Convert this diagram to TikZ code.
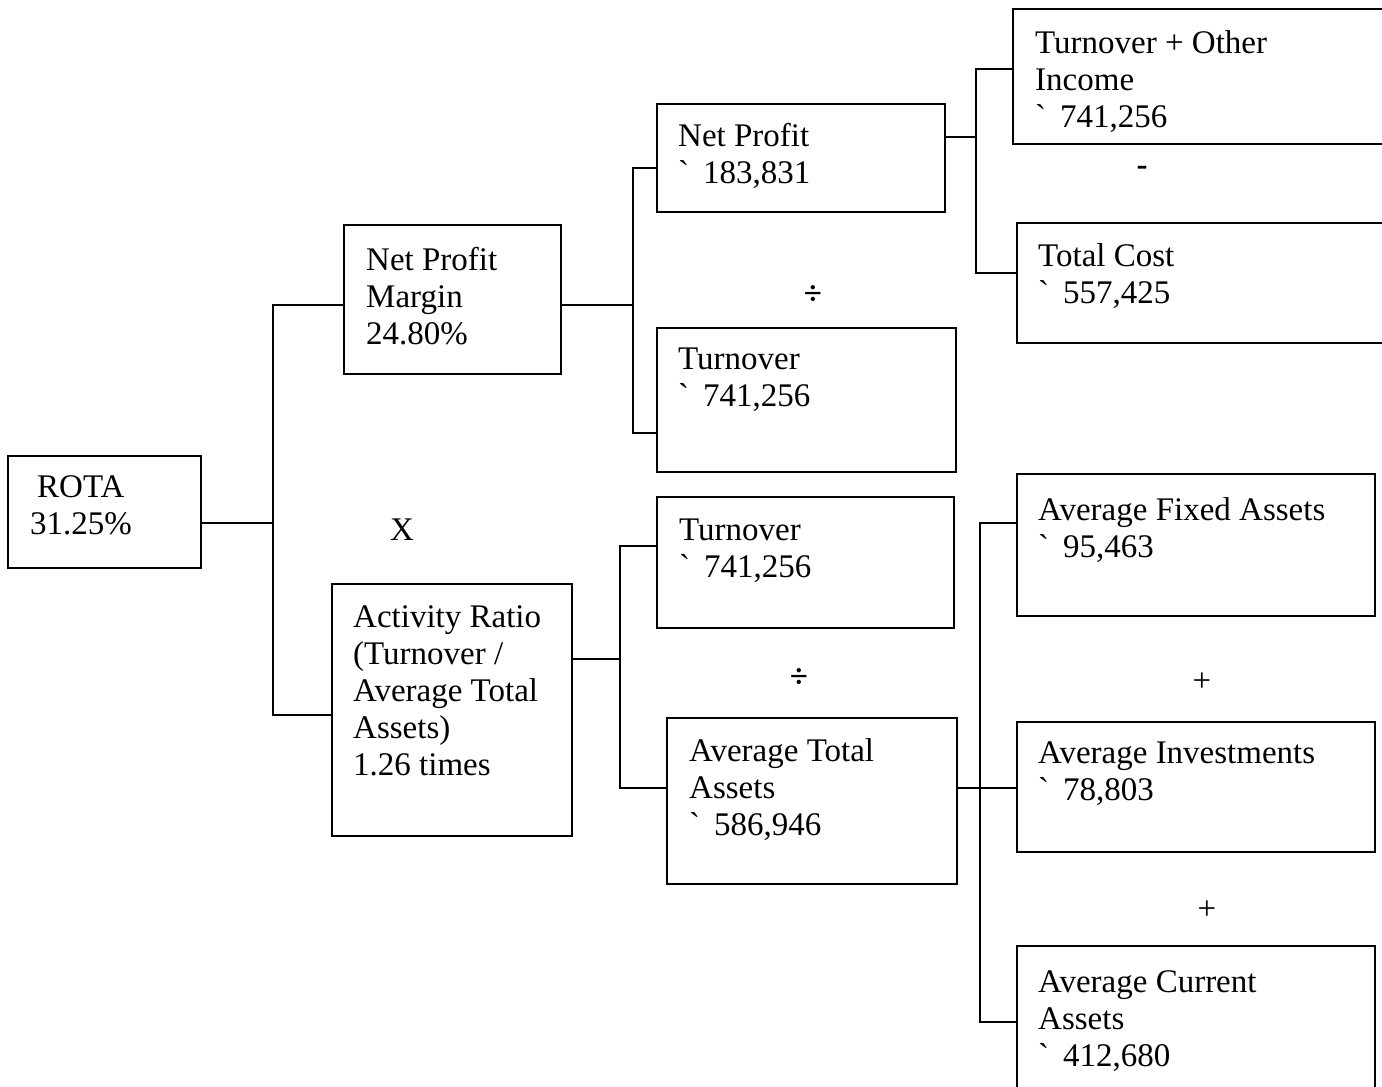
\documentclass[tikz,border=0pt]{standalone}
\usepackage{fontspec}
\setmainfont{Liberation Serif}[Ligatures=TeXOff]
\usepackage{tikz}
\usetikzlibrary{positioning}
\newcommand{\rs}{\textasciigrave\hspace{14pt}}
\tikzset{
  ln/.style={line width=1.9pt,black},
  box/.style={draw,line width=1.9pt,inner sep=0,outer sep=0,anchor=north west},
  txt/.style={inner sep=0,align=left,font=\fontsize{33}{37}\selectfont},
  op/.style={inner sep=0,font=\fontsize{33}{37}\selectfont}
}
\begin{document}
\begin{tikzpicture}[x=1pt,y=-1pt]
\useasboundingbox (0,0) rectangle (1382,1087);
% boxes
\node[box,minimum width=193,minimum height=112] (rota) at (8,456) {};
\node[box,minimum width=217,minimum height=149] (npm) at (344,225) {};
\node[box,minimum width=240,minimum height=252] (act) at (332,584) {};
\node[box,minimum width=288,minimum height=108] (np) at (657,104) {};
\node[box,minimum width=299,minimum height=144] (tov1) at (657,328) {};
\node[box,minimum width=390,minimum height=135] (toi) at (1013,9) {};
\node[box,minimum width=390,minimum height=120] (tc) at (1017,223) {};
\node[box,minimum width=297,minimum height=131] (tov2) at (657,497) {};
\node[box,minimum width=290,minimum height=166] (ata) at (667,718) {};
\node[box,minimum width=358,minimum height=142] (afa) at (1017,474) {};
\node[box,minimum width=358,minimum height=130] (ai) at (1017,722) {};
\node[box,minimum width=358,minimum height=160] (aca) at (1017,946) {};
% texts
\node[txt,below right=19pt and 22pt of rota.north west] (rotat) {\hspace*{7pt}ROTA\\31.25\%};
\node[txt,below right=22pt and 22pt of npm.north west] (npmt) {Net Profit\\Margin\\24.80\%};
\node[txt,below right=21pt and 21pt of act.north west] (actt) {Activity Ratio\\(Turnover /\\Average Total\\Assets)\\1.26 times};
\node[txt,below right=19pt and 21pt of np.north west] (npt) {Net Profit\\\rs183,831};
\node[txt,below right=20pt and 21pt of tov1.north west] (tov1t) {Turnover\\\rs741,256};
\node[txt,below right=21pt and 22pt of toi.north west] (toit) {Turnover + Other\\Income\\\rs741,256};
\node[txt,below right=20pt and 21pt of tc.north west] (tct) {Total Cost\\\rs557,425};
\node[txt,below right=22pt and 22pt of tov2.north west] (tov2t) {Turnover\\\rs741,256};
\node[txt,below right=20pt and 22pt of ata.north west] (atat) {Average Total\\Assets\\\rs586,946};
\node[txt,below right=23pt and 21pt of afa.north west] (afat) {Average Fixed Assets\\\rs95,463};
\node[txt,below right=20pt and 21pt of ai.north west] (ait) {Average Investments\\\rs78,803};
\node[txt,below right=24pt and 21pt of aca.north west] (acat) {Average Current\\Assets\\\rs412,680};
% operators
\node[op] (times) at (402,530) {X};
\node[op] (div1) at (813,295) {\textbf{÷}};
\node[op] (div2) at (799,678) {\textbf{÷}};
\node[op] (minus) at (1142,171) {\textbf{-}};
\node[op] (plus1) at (1202,682) {+};
\node[op] (plus2) at (1207,910) {+};
% connectors
\coordinate (j1) at (273,523);
\coordinate (t1a) at (273,305); \coordinate (t1b) at (273,715);
\draw[ln] (rota.east |- j1) -- (j1);
\draw[ln] (t1a -| npm.west) -- (t1a) -- (t1b) -- (t1b -| act.west);
\coordinate (j2) at (633,305);
\coordinate (t2a) at (633,168); \coordinate (t2b) at (633,433);
\draw[ln] (npm.east |- j2) -- (j2);
\draw[ln] (t2a -| np.west) -- (t2a) -- (t2b) -- (t2b -| tov1.west);
\coordinate (j3) at (976,137);
\coordinate (t3a) at (976,69); \coordinate (t3b) at (976,273);
\draw[ln] (np.east |- j3) -- (j3);
\draw[ln] (t3a -| toi.west) -- (t3a) -- (t3b) -- (t3b -| tc.west);
\coordinate (j4) at (620,659);
\coordinate (t4a) at (620,546); \coordinate (t4b) at (620,788);
\draw[ln] (act.east |- j4) -- (j4);
\draw[ln] (t4a -| tov2.west) -- (t4a) -- (t4b) -- (t4b -| ata.west);
\coordinate (t5a) at (980,523); \coordinate (t5b) at (980,1022);
\draw[ln] (ata.east |- t4b) -- (t4b -| ai.west);
\draw[ln] (t5a -| afa.west) -- (t5a) -- (t5b) -- (t5b -| aca.west);
\end{tikzpicture}
\end{document}
